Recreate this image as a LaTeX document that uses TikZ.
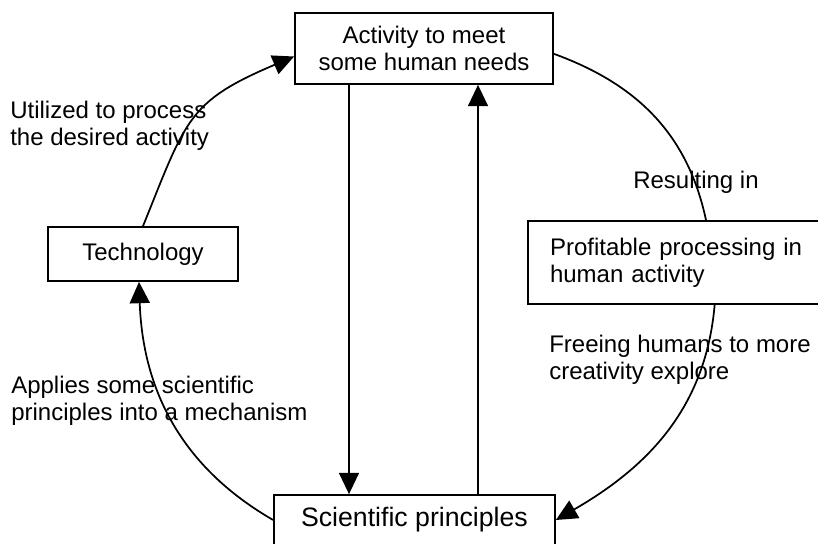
\documentclass[tikz,border=0pt]{standalone}
\usepackage{fontspec}
\setmainfont{Liberation Sans}
\usetikzlibrary{arrows.meta}

\begin{document}
\begin{tikzpicture}[x=0.75pt,y=0.75pt,
		box/.style={draw,black,line width=1.3pt,inner sep=0pt,align=center,font=\fontsize{18}{20.25}\selectfont},
		lbl/.style={anchor=north west,inner sep=0pt,align=left,font=\fontsize{18}{20.25}\selectfont},
		arr/.style={line width=1.3pt,-{Triangle[length=16pt,width=15pt]}}]
		%
		\useasboundingbox (0,0) rectangle (818,543);
		%
		\node[box,minimum width=193.5pt,minimum height=53.25pt] (act) at (424,494.5) {Activity to meet\\some human needs};
		\node[box,minimum width=142.5pt,minimum height=40.5pt] (tech) at (143,289) {Technology};
		\node[box,minimum width=234pt,minimum height=62.25pt,text width=201pt,align=left] (prof) at (684,280.5) {Profitable processing in\\human activity};
		\node[box,minimum width=210.75pt,minimum height=37.5pt,font=\fontsize{20}{24}\selectfont] (sci) at (414.5,23) {Scientific principles};
		%
		\node[lbl] (lutil) at (10,442.5) {Utilized to process\\the desired activity};
		\node[lbl] (lres) at (633,372.5) {Resulting in};
		\node[lbl] (lfree) at (549,208.5) {Freeing humans to more\\creativity explore};
		\node[lbl] (lappl) at (11,167.5) {Applies some scientific\\principles into a mechanism};
		%
		\draw[arr] (tech.north) to[out=68,in=203,looseness=1.3] ([yshift=-6pt]act.west);
		\draw[line width=1.3pt] ([yshift=-4pt]act.east) to[out=-20,in=102] ([xshift=16.5pt]prof.north);
		\draw[arr] ([xshift=23pt]prof.south) to[out=-95,in=30] (sci.east);
		\draw[arr] (sci.west) to[out=150,in=-88] ([xshift=-3pt]tech.south);
		\draw[arr] (act.south -| 349,0) -- (sci.north -| 349,0);   % down
		\draw[arr] (sci.north -| 478,0) -- (act.south -| 478,0);   % up
		\end{tikzpicture}
\end{document}
